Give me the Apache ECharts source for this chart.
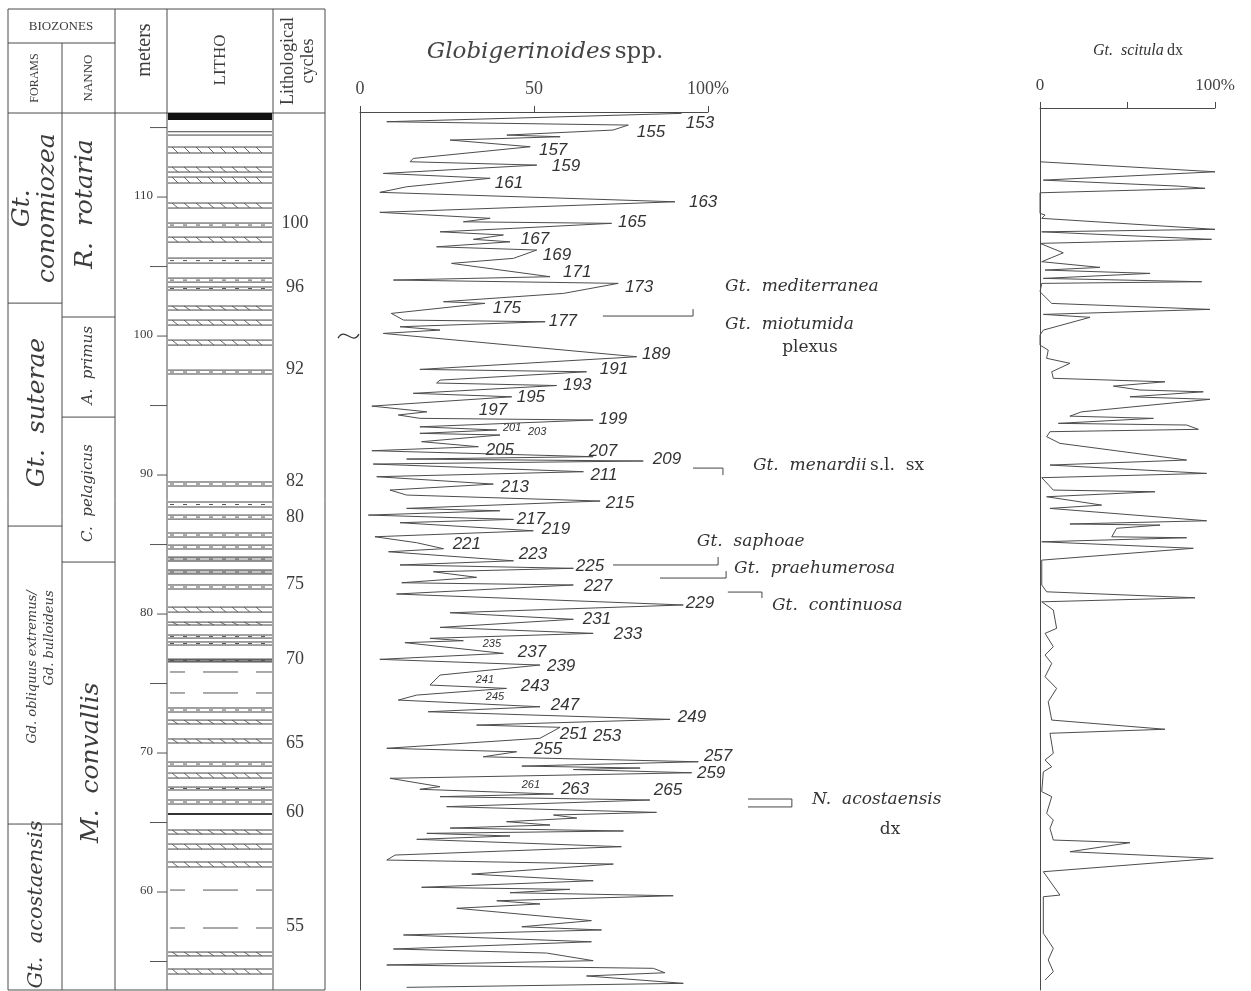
<!DOCTYPE html>
<html>
<head>
<meta charset="utf-8">
<script src="https://cdn.jsdelivr.net/npm/echarts@6/dist/echarts.min.js"></script>
<style>
html, body { margin: 0; padding: 0; background: #fff; }
#chart { width: 1251px; height: 991px; }
</style>
</head>
<body>
<div id="chart"></div>
<script>
// ---------- Depth scale (m) shared by every column ----------
const depthTop = 116.12;
const depthBottom = 52.95;

// ---------- Meters column ----------
const meterTicks = [55, 60, 65, 70, 75, 80, 85, 90, 95, 100, 105, 110, 115];

// ---------- Lithological cycles ----------
const cycleNumbers = ['100', '96', '92', '82', '80', '75', '70', '65', '60', '55'];
const cycleDepths = [108.13, 103.5, 97.6, 89.57, 86.98, 82.16, 76.76, 70.72, 65.76, 57.5];

// ---------- Lithology: beds (top / base in m) and their kind ----------
const lithoTop = [116.04, 114.70, 113.60, 112.16, 111.44, 109.57, 108.13, 107.12, 105.61, 104.17,
  103.53, 102.16, 101.15, 99.71, 97.55, 89.50, 88.06, 87.12, 85.83, 84.96,
  84.10, 83.17, 82.09, 80.50, 79.42, 78.49, 77.99, 76.76, 75.83, 74.32,
  73.24, 72.37, 71.01, 69.35, 68.56, 67.55, 66.62, 65.68, 64.46, 63.45,
  62.16, 60.14, 57.41, 55.68, 54.46];
const lithoBase = [115.54, 114.46, 113.17, 111.80, 111.01, 109.21, 107.84, 106.76, 105.25, 103.88,
  103.31, 101.87, 100.79, 99.35, 97.27, 89.21, 87.70, 86.83, 85.54, 84.68,
  83.81, 82.88, 81.80, 80.14, 79.21, 78.27, 77.77, 76.55, 75.83, 74.32,
  72.95, 72.09, 70.72, 69.06, 68.20, 67.34, 66.33, 65.54, 64.17, 63.09,
  61.80, 60.14, 57.41, 55.40, 54.10];
const lithoKind = ['cap', 'thin', 'hatch', 'hatch', 'hatch', 'hatch', 'dotted', 'hatch', 'dotted', 'dotted',
  'dotted', 'hatch', 'hatch', 'hatch', 'dotted', 'dotted', 'dotted', 'dotted', 'dotted', 'dotted',
  'grey', 'grey', 'dotted', 'hatch', 'hatch', 'dotted', 'dotted', 'dark', 'dash', 'dash',
  'dotted', 'hatch', 'hatch', 'dotted', 'hatch', 'dotted', 'dotted', 'solid', 'hatch', 'hatch',
  'hatch', 'dash', 'dash', 'hatch', 'hatch'];

// ---------- Biozones ----------
const foramZoneNames = ['Gt.\nconomiozea', 'Gt.  suterae', 'Gd. obliquus extremus/\nGd. bulloideus', 'Gt.  acostaensis'];
const foramZoneBase = [102.37, 86.33, 64.89, 52.95];
const foramZoneLabelDepth = [109.2, 94.5, 81.7, 59.1];
const nannoZoneNames = ['R.  rotaria', 'A.  primus', 'C.  pelagicus', 'M.  convallis'];
const nannoZoneBase = [101.37, 94.17, 83.74, 52.95];
const nannoZoneLabelDepth = [109.5, 97.9, 88.7, 69.3];

// ---------- Globigerinoides spp. (%) vs depth (m) ----------
const globDepth = [116.02, 115.42, 115.18, 114.82, 114.46, 114.34, 114.10, 113.62, 112.78, 112.54,
  112.30, 111.70, 111.35, 110.74, 110.34, 109.66, 108.90, 108.47, 108.22, 108.11,
  107.75, 107.50, 107.27, 106.96, 106.78, 106.42, 106.19, 105.59, 105.23, 104.27,
  104.03, 103.79, 103.07, 102.47, 102.35, 101.63, 101.15, 101.03, 100.67, 100.43,
  100.19, 98.51, 97.60, 97.43, 96.83, 96.62, 96.44, 95.88, 95.63, 94.96,
  94.55, 94.32, 94.08, 93.96, 93.47, 93.24, 93.00, 92.88, 92.40, 92.04,
  91.75, 91.32, 91.15, 91.01, 90.79, 90.24, 89.88, 89.35, 88.92, 88.56,
  88.13, 87.60, 87.43, 87.12, 86.81, 86.57, 85.99, 85.56, 85.13, 84.70,
  84.48, 83.83, 83.53, 83.29, 83.04, 82.64, 82.25, 82.09, 81.44, 80.65,
  80.09, 79.62, 79.04, 78.61, 78.25, 78.08, 77.94, 77.17, 76.74, 76.33,
  75.61, 74.89, 74.65, 74.17, 73.81, 73.33, 72.97, 72.42, 72.01, 71.85,
  71.06, 70.34, 70.09, 69.73, 69.37, 69.06, 68.92, 68.81, 68.58, 68.18,
  67.58, 67.39, 67.05, 66.86, 66.62, 66.14, 65.73, 65.54, 65.32, 65.06,
  64.82, 64.60, 64.39, 64.22, 64.03, 63.79, 63.26, 62.66, 62.30, 62.01,
  61.29, 60.81, 60.34, 60.19, 59.95, 59.73, 59.37, 59.14, 58.83, 57.94,
  57.50, 57.27, 56.91, 56.42, 55.90, 55.61, 55.06, 54.75, 54.51, 54.19,
  53.96, 53.43, 53.14];
const globPct = [92.4, 7.7, 77.1, 72.7, 42.2, 57.5, 25.9, 48.9, 15.3, 14.4,
  50.8, 6.7, 37.4, 13.4, 5.7, 90.5, 5.7, 37.4, 29.7, 72.3,
  44.1, 23.0, 41.2, 32.6, 43.1, 22.0, 50.8, 44.1, 26.3, 54.6,
  9.6, 74.2, 58.5, 24.0, 35.9, 9.0, 12.5, 53.2, 11.5, 23.0,
  6.7, 79.5, 17.2, 65.1, 23.0, 22.0, 56.5, 15.3, 43.6, 3.4,
  19.2, 11.0, 17.2, 67.0, 17.2, 39.3, 17.2, 40.2, 17.7, 34.0,
  3.4, 67.0, 13.4, 81.4, 3.8, 64.2, 4.8, 38.3, 8.6, 13.4,
  69.0, 13.4, 40.2, 2.4, 44.1, 11.5, 49.8, 4.3, 16.3, 24.0,
  8.2, 44.1, 11.5, 61.3, 21.1, 33.5, 12.0, 61.3, 10.5, 92.9,
  25.9, 61.3, 23.0, 67.0, 20.1, 29.7, 12.9, 41.2, 5.7, 51.7,
  23.0, 20.1, 42.1, 16.3, 11.0, 51.7, 19.6, 89.1, 33.5, 57.5,
  51.7, 7.7, 45.0, 35.4, 97.2, 46.5, 80.5, 61.3, 95.3, 8.6,
  23.0, 17.2, 55.6, 23.0, 83.3, 24.9, 85.2, 55.6, 62.3, 42.1,
  54.6, 25.9, 75.7, 19.2, 43.1, 16.3, 75.1, 10.1, 7.7, 72.8,
  32.1, 67.0, 17.7, 60.3, 43.1, 90.0, 39.3, 51.7, 27.8, 66.5,
  46.5, 69.4, 12.5, 66.5, 9.6, 53.6, 67.0, 7.7, 84.3, 87.6,
  65.1, 92.9, 13.4];

// ---------- Peak (cycle) numbers on the Globigerinoides curve ----------
const peakText = ['153', '155', '157', '159', '161', '163', '165', '167', '169', '171', '173', '175', '177',
  '189', '191', '193', '195', '197', '199', '201', '203', '205', '207', '209', '211', '213', '215',
  '217', '219', '221', '223', '225', '227', '229', '231', '233', '235', '237', '239', '241', '243',
  '245', '247', '249', '251', '253', '255', '257', '259', '261', '263', '265'];
const peakPct = [97.7, 83.6, 55.5, 59.2, 42.8, 98.6, 78.2, 50.3, 56.6, 62.4, 80.2, 42.2, 58.3,
  85.1, 73.0, 62.4, 49.1, 38.2, 72.7, 43.7, 50.9, 40.2, 69.8, 88.2, 70.1, 44.5, 74.7,
  49.1, 56.3, 30.7, 49.7, 66.1, 68.4, 97.7, 68.1, 77.0, 37.9, 49.4, 57.8, 35.9, 50.3,
  38.8, 58.9, 95.4, 61.5, 71.0, 54.0, 102.9, 100.9, 49.1, 61.8, 88.5];
const peakDepth = [115.32, 114.68, 113.38, 112.23, 111.01, 109.64, 108.20, 106.98, 105.83, 104.60, 103.53, 102.01, 101.08,
  98.71, 97.63, 96.47, 95.61, 94.68, 94.03, 93.38, 93.09, 91.80, 91.73, 91.15, 90.0, 89.14, 87.99,
  86.83, 86.12, 85.04, 84.32, 83.45, 82.01, 80.79, 79.64, 78.56, 77.84, 77.27, 76.26, 75.25, 74.82,
  74.03, 73.45, 72.59, 71.37, 71.22, 70.29, 69.78, 68.56, 67.70, 67.41, 67.34];
const smallPeaks = ['201', '203', '235', '241', '245', '261'];

// ---------- Bioevents (horizontal markers, in % units of the Globigerinoides axis) ----------
const eventFrom = [69.8, 95.7, 72.7, 86.2, 105.7];
const eventTo = [95.7, 104.3, 102.9, 105.2, 115.5];
const eventDepth = [101.44, 90.50, 83.53, 82.59, 81.58];
const eventHookDepth = [101.94, 90.00, 84.10, 83.09, 81.15];
const acostaFrom = 111.5, acostaTo = 124.1;
const acostaDepths = [66.69, 66.12];

const speciesText = ['{i|Gt.  mediterranea}', '{i|Gt.  miotumida}', '{r|plexus}', '{i|Gt.  menardii} {r|s.l.  sx}',
  '{i|Gt.  saphoae}', '{i|Gt.  praehumerosa}', '{i|Gt.  continuosa}', '{i|N.  acostaensis}', '{r|dx}'];
const speciesPct = [104.9, 104.9, 129.3, 112.9, 96.8, 107.5, 118.4, 129.9, 152.3];
const speciesDepth = [103.53, 100.86, 99.14, 90.65, 85.18, 83.24, 80.58, 66.62, 64.46];
const speciesAlign = ['left', 'left', 'center', 'left', 'left', 'left', 'left', 'left', 'center'];

const breakDepth = [100.0];

// ---------- Gt. scitula dx (%) vs depth (m) ----------
const sciDepth = [112.54, 111.82, 111.22, 110.79, 110.63, 110.31, 108.83, 108.71, 108.47, 107.68,
  107.50, 106.96, 106.67, 105.99, 105.35, 104.94, 104.75, 104.51, 104.15, 103.91,
  103.79, 103.19, 102.35, 101.92, 101.56, 101.35, 100.43, 100.07, 99.35, 98.99,
  98.40, 98.04, 97.43, 96.96, 96.71, 96.40, 96.12, 95.99, 95.63, 95.45,
  94.55, 94.24, 94.08, 93.72, 93.60, 93.29, 93.12, 92.76, 92.28, 91.08,
  90.72, 90.12, 89.81, 88.92, 88.80, 88.44, 87.84, 87.60, 86.71, 86.48,
  86.40, 86.17, 85.56, 85.49, 85.20, 84.73, 83.88, 82.09, 81.60, 81.17,
  80.88, 80.29, 78.97, 78.61, 77.65, 77.05, 76.45, 75.49, 74.65, 73.69,
  72.37, 71.71, 71.42, 69.98, 69.50, 69.01, 68.65, 67.22, 66.86, 65.66,
  65.18, 64.58, 63.74, 63.55, 62.90, 62.42, 61.46, 59.78, 59.66, 57.03,
  55.95, 55.11, 54.27, 53.67];
const sciPct = [0, 100, 1.9, 79, 94.3, 0, 0, 2.9, 1, 100,
  1, 98, 0, 13.3, 1, 34.3, 2.9, 62.9, 1.9, 92.4,
  1, 0, 6.7, 97.1, 1.9, 28.6, 1.9, 0, 0, 4.7,
  3.8, 17.1, 6.7, 7.6, 71.4, 41.9, 57.1, 93.3, 51.4, 97.1,
  23.8, 17.1, 64.8, 10.5, 83.8, 90.5, 5.7, 3.8, 11.4, 83.8,
  5.7, 95.2, 1, 7.6, 65.7, 3.8, 35.2, 5.7, 95.2, 17.1,
  68.6, 43.8, 41, 83.8, 1, 87.6, 1, 1, 3.8, 88.6,
  1, 7.6, 9.5, 2.9, 7.6, 2.9, 6.7, 2.9, 9.5, 4.7,
  6.7, 71.4, 5.7, 7.6, 2.9, 6.7, 1.9, 1, 6.7, 3.8,
  7.6, 5.7, 7.6, 51.4, 17.1, 99, 1.9, 11.4, 1.9, 1.9,
  7.6, 4.7, 7.6, 2.9];

// ---------- Page layout (pixels) ----------
const INK = '#3c3c3c';
const LINE = '#4a4a4a';
const SERIF = '"Liberation Serif", serif';
const DSERIF = '"DejaVu Serif", serif';
const COL = { left: 8, right: 325, top: 9, bottom: 990, bioBottom: 43, headBottom: 113,
  foramNanno: 62, nannoMeters: 115, metersLitho: 167, lithoCycles: 273 };

const chart = echarts.init(document.getElementById('chart'), null, { renderer: 'canvas' });

function hLine(x1, x2, y, extra) {
  return Object.assign({ type: 'line', shape: { x1: x1, y1: y, x2: x2, y2: y },
    style: { stroke: LINE, lineWidth: 1 } }, extra || {});
}

// bed symbols in the LITHO column
function renderLitho(params, api) {
  const i = params.dataIndex;
  const kind = lithoKind[i];
  const x0 = COL.metersLitho + 1, x1 = COL.lithoCycles - 1;
  const yT = api.coord([0, api.value(0)])[1];
  const yB = api.coord([0, api.value(1)])[1];
  const kids = [];
  if (kind === 'cap') {
    kids.push({ type: 'rect', shape: { x: x0, y: yT, width: x1 - x0, height: yB - yT }, style: { fill: '#111' } });
    return { type: 'group', children: kids };
  }
  if (kind === 'dash') {
    kids.push({ type: 'line', shape: { x1: x0 + 2, y1: yT, x2: x1, y2: yT },
      style: { stroke: '#555', lineWidth: 1, lineDash: [35, 18], lineDashOffset: 20 } });
    return { type: 'group', children: kids };
  }
  if (kind === 'solid') {
    kids.push({ type: 'rect', shape: { x: x0, y: yT, width: x1 - x0, height: Math.max(1.5, yB - yT) }, style: { fill: '#333' } });
    return { type: 'group', children: kids };
  }
  if (kind === 'grey' || kind === 'dark') {
    kids.push({ type: 'rect', shape: { x: x0, y: yT, width: x1 - x0, height: yB - yT },
      style: { fill: kind === 'grey' ? '#c4c4c4' : '#8a8a8a' } });
  }
  kids.push(hLine(x0, x1, yT, { style: { stroke: '#444', lineWidth: 1 } }));
  kids.push(hLine(x0, x1, yB, { style: { stroke: '#444', lineWidth: 1 } }));
  if (kind === 'hatch') {
    for (let x = x0 + 4; x < x1 - 6; x += 12) {
      kids.push({ type: 'line', shape: { x1: x, y1: yT, x2: x + 6, y2: yB }, style: { stroke: '#555', lineWidth: 0.9 } });
    }
  } else if (kind === 'dotted' || kind === 'grey' || kind === 'dark') {
    const ym = (yT + yB) / 2;
    kids.push({ type: 'line', shape: { x1: x0 + 2, y1: ym, x2: x1, y2: ym },
      style: { stroke: '#555', lineWidth: 1, lineDash: [4, 9] } });
  }
  return { type: 'group', children: kids };
}

function renderZones(names, labelDepth, xL, xR, fonts, aligns) {
  return function (params, api) {
    const i = params.dataIndex;
    const yB = api.coord([0, api.value(0)])[1];
    const yL = api.coord([0, labelDepth[i]])[1];
    const kids = [];
    if (i < names.length - 1) kids.push(hLine(xL, xR, yB));
    kids.push({ type: 'text', x: (xL + xR) / 2 + (fonts[i].dx || 0), y: yL, rotation: Math.PI / 2,
      style: { text: names[i], fill: INK, font: fonts[i].font, align: aligns[i], verticalAlign: 'middle',
        lineHeight: fonts[i].lh } });
    return { type: 'group', children: kids };
  };
}

const foramFonts = [
  { font: 'italic 25px ' + DSERIF, lh: 25, dx: 0 },
  { font: 'italic 25px ' + DSERIF, lh: 25, dx: 2 },
  { font: 'italic 13px ' + DSERIF, lh: 17, dx: 6 },
  { font: 'italic 21px ' + DSERIF, lh: 21, dx: 2 }
];
const nannoFonts = [
  { font: 'italic 25px ' + DSERIF, lh: 25, dx: -3 },
  { font: 'italic 15px ' + DSERIF, lh: 17, dx: 0 },
  { font: 'italic 15px ' + DSERIF, lh: 17, dx: 0 },
  { font: 'italic 25px ' + DSERIF, lh: 25, dx: 3 }
];

function renderMeters(params, api) {
  const v = api.value(0);
  const y = api.coord([0, v])[1];
  const labelled = v % 10 === 0;
  const kids = [hLine(labelled ? 157 : 150, COL.metersLitho, y, { style: { stroke: '#555', lineWidth: 1 } })];
  if (labelled) {
    kids.push({ type: 'text', x: 153, y: y - 1, style: { text: String(v), fill: INK, font: '13px ' + SERIF,
      align: 'right', verticalAlign: 'middle' } });
  }
  return { type: 'group', children: kids };
}

function renderCycles(params, api) {
  const y = api.coord([0, api.value(0)])[1];
  return { type: 'text', x: 295, y: y, style: { text: cycleNumbers[params.dataIndex], fill: INK,
    font: '18px ' + SERIF, align: 'center', verticalAlign: 'middle' } };
}

function renderPeaks(params, api) {
  const p = api.coord([api.value(0), api.value(1)]);
  const t = peakText[params.dataIndex];
  const small = smallPeaks.indexOf(t) >= 0;
  return { type: 'text', x: p[0], y: p[1], style: { text: t, fill: '#333',
    font: (small ? 'italic 11px ' : 'italic 17px ') + '"Liberation Sans", sans-serif',
    align: 'center', verticalAlign: 'middle' } };
}

function renderEvents(params, api) {
  const a = api.coord([api.value(0), api.value(2)]);
  const b = api.coord([api.value(1), api.value(2)]);
  const h = api.coord([api.value(1), api.value(3)]);
  return { type: 'group', children: [
    { type: 'line', shape: { x1: a[0], y1: a[1], x2: b[0], y2: b[1] }, style: { stroke: '#444', lineWidth: 1 } },
    { type: 'line', shape: { x1: b[0], y1: b[1], x2: h[0], y2: h[1] }, style: { stroke: '#444', lineWidth: 1 } }
  ] };
}

function renderAcosta(params, api) {
  const a1 = api.coord([acostaFrom, acostaDepths[0]]);
  const b1 = api.coord([acostaTo, acostaDepths[0]]);
  const a2 = api.coord([acostaFrom, acostaDepths[1]]);
  const b2 = api.coord([acostaTo, acostaDepths[1]]);
  return { type: 'group', children: [
    { type: 'line', shape: { x1: a1[0], y1: a1[1], x2: b1[0], y2: b1[1] }, style: { stroke: '#444', lineWidth: 1 } },
    { type: 'line', shape: { x1: a2[0], y1: a2[1], x2: b2[0], y2: b2[1] }, style: { stroke: '#444', lineWidth: 1 } },
    { type: 'line', shape: { x1: b1[0], y1: b1[1], x2: b2[0], y2: b2[1] }, style: { stroke: '#444', lineWidth: 1 } }
  ] };
}

function renderSpecies(params, api) {
  const p = api.coord([api.value(0), api.value(1)]);
  return { type: 'text', x: p[0], y: p[1], style: { text: speciesText[params.dataIndex],
    align: speciesAlign[params.dataIndex], verticalAlign: 'middle', fill: '#333',
    rich: {
      i: { fontFamily: 'DejaVu Serif', fontStyle: 'italic', fontSize: 17, fill: '#333' },
      r: { fontFamily: 'DejaVu Serif', fontSize: 17, fill: '#333' }
    } } };
}

function renderBreak(params, api) {
  const p = api.coord([0, api.value(0)]);
  const x = p[0], y = p[1];
  return { type: 'bezierCurve', shape: { x1: x - 22, y1: y + 2, x2: x - 1, y2: y - 2,
    cpx1: x - 15, cpy1: y - 10, cpx2: x - 8, cpy2: y + 10 }, style: { stroke: '#333', lineWidth: 1.3, fill: null } };
}

const header = [
  { type: 'rect', shape: { x: COL.left, y: COL.top, width: COL.right - COL.left, height: COL.bottom - COL.top },
    style: { fill: 'none', stroke: LINE, lineWidth: 1 } },
  hLine(COL.left, COL.nannoMeters, COL.bioBottom),
  hLine(COL.left, COL.right, COL.headBottom),
  { type: 'line', shape: { x1: COL.foramNanno, y1: COL.bioBottom, x2: COL.foramNanno, y2: COL.bottom }, style: { stroke: LINE, lineWidth: 1 } },
  { type: 'line', shape: { x1: COL.nannoMeters, y1: COL.top, x2: COL.nannoMeters, y2: COL.bottom }, style: { stroke: LINE, lineWidth: 1 } },
  { type: 'line', shape: { x1: COL.metersLitho, y1: COL.top, x2: COL.metersLitho, y2: COL.bottom }, style: { stroke: LINE, lineWidth: 1 } },
  { type: 'line', shape: { x1: COL.lithoCycles, y1: COL.top, x2: COL.lithoCycles, y2: COL.bottom }, style: { stroke: LINE, lineWidth: 1 } },
  { type: 'text', x: 61, y: 27, style: { text: 'BIOZONES', font: '13px ' + SERIF, fill: INK, align: 'center', verticalAlign: 'middle' } },
  { type: 'text', x: 35, y: 78, rotation: Math.PI / 2, style: { text: 'FORAMS', font: '12px ' + SERIF, fill: INK, align: 'center', verticalAlign: 'middle' } },
  { type: 'text', x: 89, y: 78, rotation: Math.PI / 2, style: { text: 'NANNO', font: '13px ' + SERIF, fill: INK, align: 'center', verticalAlign: 'middle' } },
  { type: 'text', x: 145, y: 50, rotation: Math.PI / 2, style: { text: 'meters', font: '20px ' + SERIF, fill: INK, align: 'center', verticalAlign: 'middle' } },
  { type: 'text', x: 221, y: 60, rotation: Math.PI / 2, style: { text: 'LITHO', font: '17px ' + SERIF, fill: INK, align: 'center', verticalAlign: 'middle' } },
  { type: 'text', x: 298, y: 61, rotation: Math.PI / 2, style: { text: 'Lithological\ncycles', font: '18px ' + SERIF, lineHeight: 20, fill: INK, align: 'center', verticalAlign: 'middle' } },
  { type: 'text', x: 545, y: 52, style: { text: '{i|Globigerinoides} {r|spp.}', align: 'center', verticalAlign: 'middle',
    rich: { i: { fontFamily: 'DejaVu Serif', fontStyle: 'italic', fontSize: 23, fill: '#444' },
            r: { fontFamily: 'DejaVu Serif', fontSize: 23, fill: '#444' } } } },
  { type: 'text', x: 1138, y: 51, style: { text: '{i|Gt.  scitula} {r|dx}', align: 'center', verticalAlign: 'middle',
    rich: { i: { fontFamily: 'Liberation Serif', fontStyle: 'italic', fontSize: 16, fill: '#333' },
            r: { fontFamily: 'Liberation Serif', fontSize: 16, fill: '#333' } } } }
];

const valueAxisBase = {
  type: 'value', position: 'top', min: 0, max: 100, interval: 50,
  axisLine: { show: true, onZero: false, lineStyle: { color: LINE, width: 1 } },
  axisTick: { show: true, length: 6, lineStyle: { color: LINE } },
  splitLine: { show: false }
};

const depthAxisBase = {
  type: 'value', min: depthBottom, max: depthTop,
  axisLine: { show: true, onZero: false, lineStyle: { color: LINE, width: 1 } },
  axisTick: { show: false }, axisLabel: { show: false }, splitLine: { show: false }
};

const option = {
  backgroundColor: '#fff',
  animation: false,
  grid: [
    { left: COL.left, top: 112, width: COL.right - COL.left, height: 878 },
    { left: 360, top: 112, width: 348, height: 878 },
    { left: 1040, top: 108, width: 175, height: 882 }
  ],
  xAxis: [
    { gridIndex: 0, type: 'value', min: 0, max: 1, show: false },
    Object.assign({}, valueAxisBase, { gridIndex: 1,
      axisLabel: { margin: 14, fontFamily: 'Liberation Serif', fontSize: 18, color: '#444', showMinLabel: true, showMaxLabel: true,
        formatter: function (v) { return v === 100 ? '100%' : String(v); } } }),
    Object.assign({}, valueAxisBase, { gridIndex: 2,
      axisLabel: { margin: 14, fontFamily: 'Liberation Serif', fontSize: 17, color: '#444', showMinLabel: true, showMaxLabel: true,
        formatter: function (v) { return v === 100 ? '100%' : (v === 0 ? '0' : ''); } } })
  ],
  yAxis: [
    { gridIndex: 0, type: 'value', min: depthBottom, max: depthTop, show: false },
    Object.assign({}, depthAxisBase, { gridIndex: 1 }),
    Object.assign({}, depthAxisBase, { gridIndex: 2, max: 116.41 })
  ],
  graphic: { elements: header },
  series: [
    { type: 'custom', name: 'litho', xAxisIndex: 0, yAxisIndex: 0, silent: true,
      data: lithoTop.map(function (t, i) { return [t, lithoBase[i]]; }), renderItem: renderLitho },
    { type: 'custom', name: 'forams', xAxisIndex: 0, yAxisIndex: 0, silent: true,
      data: foramZoneBase.map(function (d) { return [d]; }),
      renderItem: renderZones(foramZoneNames, foramZoneLabelDepth, COL.left, COL.foramNanno, foramFonts, ['center', 'center', 'right', 'center']) },
    { type: 'custom', name: 'nanno', xAxisIndex: 0, yAxisIndex: 0, silent: true,
      data: nannoZoneBase.map(function (d) { return [d]; }),
      renderItem: renderZones(nannoZoneNames, nannoZoneLabelDepth, COL.foramNanno, COL.nannoMeters, nannoFonts, ['center', 'center', 'center', 'center']) },
    { type: 'custom', name: 'meters', xAxisIndex: 0, yAxisIndex: 0, silent: true,
      data: meterTicks.map(function (m) { return [m]; }), renderItem: renderMeters },
    { type: 'custom', name: 'cycles', xAxisIndex: 0, yAxisIndex: 0, silent: true,
      data: cycleDepths.map(function (d) { return [d]; }), renderItem: renderCycles },
    { type: 'line', name: 'Globigerinoides spp.', xAxisIndex: 1, yAxisIndex: 1, symbol: 'none', showSymbol: false,
      lineStyle: { color: '#4d4d4d', width: 1 }, silent: true,
      data: globDepth.map(function (d, i) { return [globPct[i], d]; }) },
    { type: 'custom', name: 'peaks', xAxisIndex: 1, yAxisIndex: 1, silent: true, clip: false,
      data: peakPct.map(function (v, i) { return [v, peakDepth[i]]; }), renderItem: renderPeaks },
    { type: 'custom', name: 'events', xAxisIndex: 1, yAxisIndex: 1, silent: true, clip: false,
      data: eventFrom.map(function (v, i) { return [v, eventTo[i], eventDepth[i], eventHookDepth[i]]; }), renderItem: renderEvents },
    { type: 'custom', name: 'acostaensis', xAxisIndex: 1, yAxisIndex: 1, silent: true, clip: false,
      data: [[acostaFrom, acostaDepths[0]]], renderItem: renderAcosta },
    { type: 'custom', name: 'species', xAxisIndex: 1, yAxisIndex: 1, silent: true, clip: false,
      data: speciesPct.map(function (v, i) { return [v, speciesDepth[i]]; }), renderItem: renderSpecies },
    { type: 'custom', name: 'break', xAxisIndex: 1, yAxisIndex: 1, silent: true, clip: false,
      data: breakDepth.map(function (d) { return [d]; }), renderItem: renderBreak },
    { type: 'line', name: 'Gt. scitula dx', xAxisIndex: 2, yAxisIndex: 2, symbol: 'none', showSymbol: false,
      lineStyle: { color: '#4d4d4d', width: 1 }, silent: true,
      data: sciDepth.map(function (d, i) { return [sciPct[i], d]; }) }
  ]
};

chart.setOption(option);
</script>
</body>
</html>
